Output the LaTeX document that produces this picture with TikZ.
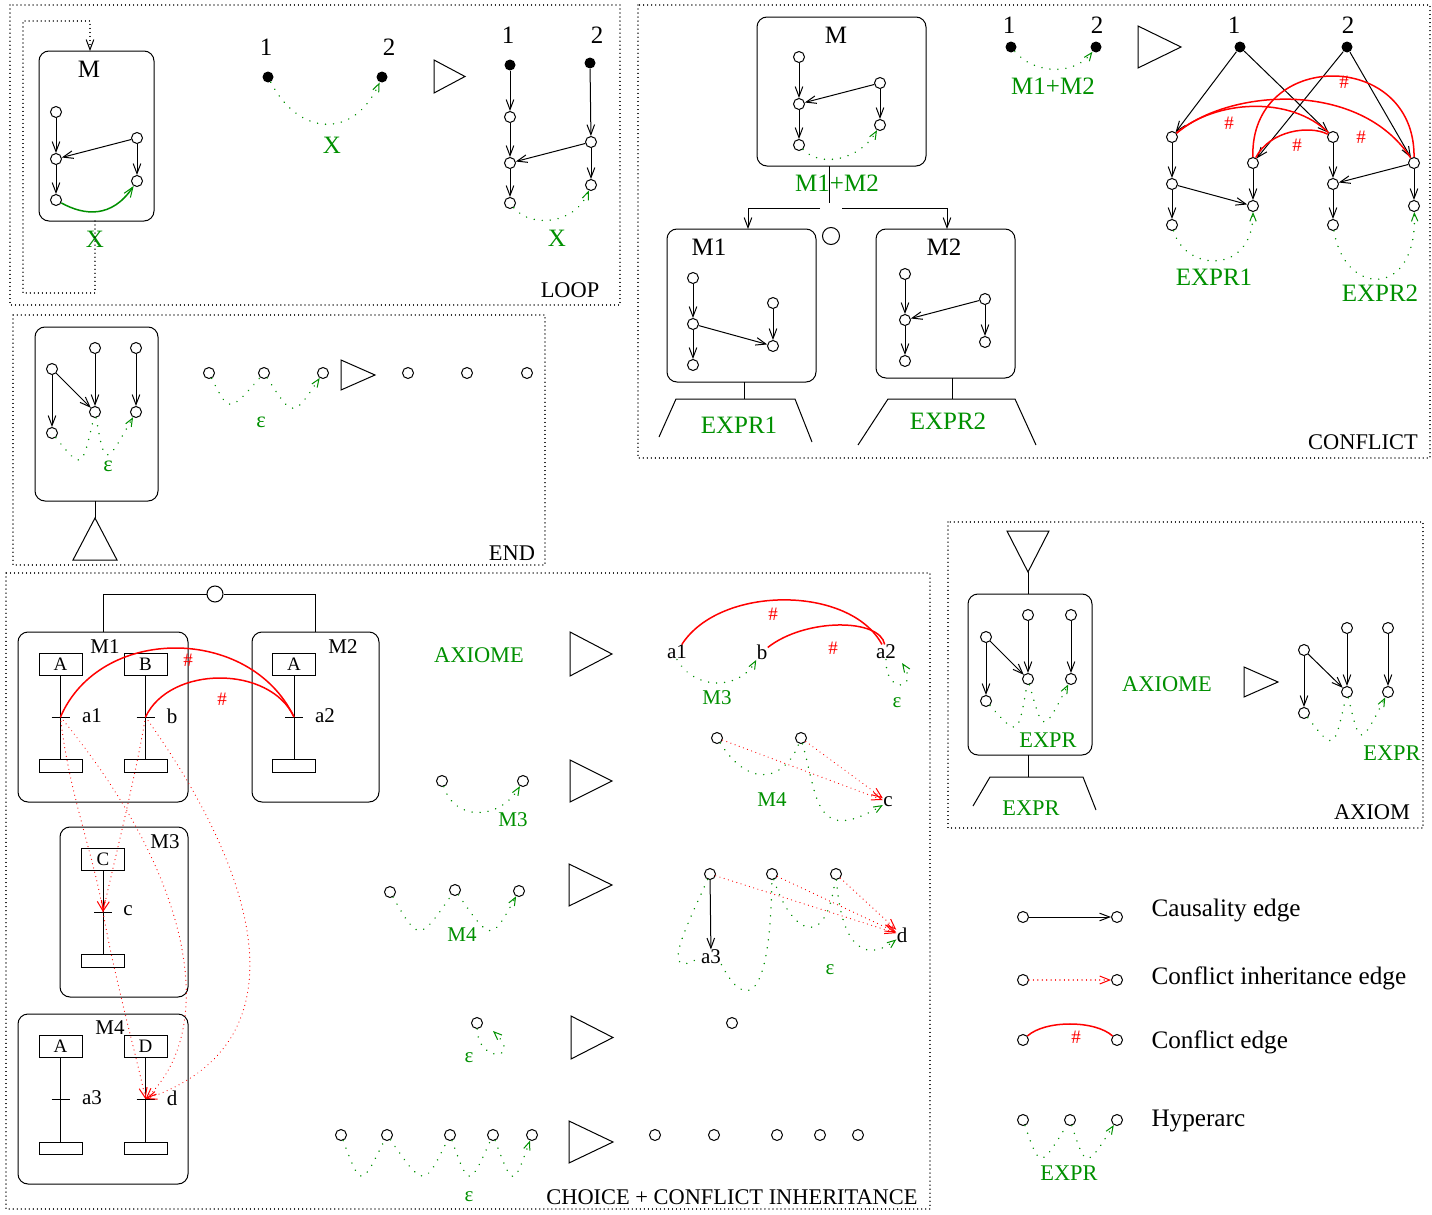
\documentclass[tikz,border=0pt]{standalone}
\usepackage{fontspec}
\setmainfont{Liberation Serif}
\usetikzlibrary{arrows.meta}
\definecolor{xgreen}{RGB}{0,144,0}
\newcommand\fsz[1]{\fontsize{#1}{#1}\selectfont}
\newcommand\mkbox[5]{\node[mbox,minimum width={(#4-#2)*0.5pt},minimum height={(#5-#3)*0.5pt}] (#1) at ({(#2+#4)/2},{(#3+#5)/2}) {};}
\newcommand\mkplay[4]{\draw (#1,#2) -- (#1,#3) -- (#4,{(#2+#3)/2}) -- cycle;}
\newcommand\stepcol[6]{%
  \node[srect,minimum height=11pt] (#1t) at (#2,#3) {#6};
  \node[srect,minimum height=6.25pt] (#1b) at (#2,#5) {};
  \coordinate (#1x) at (#2,#4);
  \draw (#1t.south) -- (#1b.north);
  \draw ([xshift=-4.5pt]#1x) -- ([xshift=4.5pt]#1x);
}
\tikzset{
  vx/.style={circle,draw,line width=0.5pt,minimum size=5.5pt,inner sep=0pt},
  bdot/.style={circle,fill=black,minimum size=5.5pt,inner sep=0pt},
  chnode/.style={circle,draw,line width=0.5pt,minimum size=8.5pt,inner sep=0pt},
  mbox/.style={draw,rounded corners=5pt,line width=0.5pt,inner sep=0pt},
  srect/.style={draw,line width=0.5pt,minimum width=21.5pt,inner sep=0pt,font=\fsz{9.5}},
  lblB/.style={inner sep=0pt,font=\fsz{12.5}},
  lblM/.style={inner sep=0pt,font=\fsz{11.2}},
  lblS/.style={inner sep=0pt,font=\fsz{10.5}},
  lblL/.style={inner sep=0pt,font=\fsz{12.6}},
  gB/.style={lblB,text=xgreen},
  gM/.style={lblM,text=xgreen},
  gS/.style={lblS,text=xgreen},
  hsh/.style={inner sep=0pt,font=\fsz{9.5},text=red},
  causal/.style={line width=0.5pt,-{Straight Barb[length=5pt,width=3.8pt]}},
  hyper/.style={xgreen,line width=0.8pt,line cap=round,dash pattern=on 0.01pt off 4pt,-{Straight Barb[length=4pt,width=3.2pt,line width=0.5pt]}},
  inh/.style={red,line width=0.6pt,line cap=round,dash pattern=on 0.01pt off 2.2pt,-{Straight Barb[length=5pt,width=4pt,line width=0.5pt]}},
  confl/.style={red,line width=0.75pt},
  pborder/.style={line width=0.6pt,line cap=round,dash pattern=on 0.01pt off 2pt},
  loopdots/.style={pborder,-{Straight Barb[length=5pt,width=3.8pt,line width=0.5pt]}},
}
\begin{document}
\begin{tikzpicture}[x=0.5pt,y=-0.5pt,line width=0.5pt]
\fill[white] (0,0) rectangle (1432,1215);
\useasboundingbox (0,0) rectangle (1432,1215);

% ================= LOOP
\draw[pborder] (10,5) rectangle (620,305);
\mkbox{Lm}{39}{51}{154}{221}
\node[lblB] (LmT) at (89,69) {M};
\node[vx] (L1) at (56,112) {};
\node[vx] (L2) at (56,159) {};
\node[vx] (L3) at (56,200) {};
\node[vx] (L4) at (137,138) {};
\node[vx] (L5) at (137,181) {};
\foreach \a/\b in {L1/L2,L2/L3,L4/L5,L4/L2} \draw[causal] (\a) -- (\b);
\draw[xgreen,line width=0.75pt,-{Straight Barb[length=5pt,width=3.8pt,line width=0.5pt]}] (L3) .. controls (85,216) and (112,218) .. (L5);
\node[gB] (LX1) at (95,239) {X};
\coordinate (Lout) at (95,221);
\coordinate (Lin) at (90,51);
\draw[loopdots] (Lout) -- (95,293) -- (23,293) -- (23,21) -- (90,21) -- (Lin);

\node[bdot] (La) at (268,77) {};
\node[bdot] (Lb) at (382,77) {};
\node[lblB] (La1) at (266,47) {1};
\node[lblB] (Lb2) at (389,47) {2};
\draw[hyper] (La) .. controls (300,138) and (355,138) .. (Lb);
\node[gB] (LX2) at (332,145) {X};
\mkplay{434}{60}{93}{465}

\node[bdot] (Ra) at (510,65) {};
\node[bdot] (Rb) at (590,63) {};
\node[lblB] (Ra1) at (508,35) {1};
\node[lblB] (Rb2) at (597,35) {2};
\node[vx] (R1) at (510,117) {};
\node[vx] (R2) at (510,163) {};
\node[vx] (R3) at (510,203) {};
\node[vx] (R4) at (591,142) {};
\node[vx] (R5) at (591,185) {};
\foreach \a/\b in {Ra/R1,R1/R2,R2/R3,Rb/R4,R4/R5,R4/R2} \draw[causal] (\a) -- (\b);
\draw[hyper] (R3) .. controls (530,228) and (575,225) .. (R5);
\node[gB] (LX3) at (557,238) {X};
\node[lblM] (Ltitle) at (570,290) {LOOP};

% ================= CONFLICT
\draw[pborder] (638,5) rectangle (1430,458);
\mkbox{Cm}{757}{17}{926}{166}
\node[lblB] (CmT) at (836,35) {M};
\node[vx] (C1) at (799,57) {};
\node[vx] (C2) at (799,104) {};
\node[vx] (C3) at (799,145) {};
\node[vx] (C4) at (880,83) {};
\node[vx] (C5) at (880,125) {};
\foreach \a/\b in {C1/C2,C2/C3,C4/C5,C4/C2} \draw[causal] (\a) -- (\b);
\draw[hyper] (C3) .. controls (820,168) and (860,160) .. (C5);
\coordinate (CmS) at (829,166);
\coordinate (CmD) at (829,203);
\draw (CmS) -- (CmD);
\node[gB] (CmL) at (837,183) {M1+M2};
\coordinate (CbrL) at (820,208);
\coordinate (CbrR) at (842,208);
\coordinate (Cm1In) at (748,229);
\coordinate (Cm2In) at (947,229);
\draw[causal] (CbrL) -| (Cm1In);
\draw[causal] (CbrR) -| (Cm2In);
\node[chnode] (Cch) at (831,236) {};

\mkbox{Cm1}{667}{229}{816}{382}
\node[lblB] (Cm1T) at (709,247) {M1};
\node[vx] (P1) at (693,278) {};
\node[vx] (P2) at (693,324) {};
\node[vx] (P3) at (693,365) {};
\node[vx] (P4) at (773,303) {};
\node[vx] (P5) at (773,346) {};
\foreach \a/\b in {P1/P2,P2/P3,P4/P5,P2/P5} \draw[causal] (\a) -- (\b);
\coordinate (Cm1S) at (744,382);
\coordinate (Ct1) at (744,399);
\draw (Cm1S) -- (Ct1);
\draw (659,437) -- (676,399) -- (795,399) -- (812,442);
\node[gB] (Ce1) at (739,425) {EXPR1};

\mkbox{Cm2}{876}{229}{1015}{378}
\node[lblB] (Cm2T) at (944,247) {M2};
\node[vx] (Q1) at (905,274) {};
\node[vx] (Q2) at (905,320) {};
\node[vx] (Q3) at (905,361) {};
\node[vx] (Q4) at (985,299) {};
\node[vx] (Q5) at (985,342) {};
\foreach \a/\b in {Q1/Q2,Q2/Q3,Q4/Q5,Q4/Q2} \draw[causal] (\a) -- (\b);
\coordinate (Cm2S) at (952,378);
\coordinate (Ct2) at (952,399);
\draw (Cm2S) -- (Ct2);
\draw (858,445) -- (888,399) -- (1015,399) -- (1036,445);
\node[gB] (Ce2) at (948,421) {EXPR2};

\node[bdot] (Ka) at (1011,47) {};
\node[bdot] (Kb) at (1096,47) {};
\node[lblB] (Ka1) at (1009,25) {1};
\node[lblB] (Kb2) at (1097,25) {2};
\draw[hyper] (Ka) .. controls (1035,75) and (1075,75) .. (Kb);
\node[gB] (KL) at (1053,86) {M1+M2};
\mkplay{1138}{26}{68}{1181}

\node[bdot] (Da) at (1240,47) {};
\node[bdot] (Db) at (1347,47) {};
\node[lblB] (Da1) at (1234,25) {1};
\node[lblB] (Db2) at (1348,25) {2};
\node[vx] (A1) at (1172,137) {};
\node[vx] (A2) at (1172,184) {};
\node[vx] (A3) at (1172,225) {};
\node[vx] (B1) at (1253,163) {};
\node[vx] (B2) at (1253,206) {};
\node[vx] (D1) at (1333,137) {};
\node[vx] (D2) at (1333,184) {};
\node[vx] (D3) at (1333,225) {};
\node[vx] (E1c) at (1414,163) {};
\node[vx] (E2c) at (1414,206) {};
\foreach \a/\b in {Da/A1,Da/D1,Db/B1,Db/E1c,A1/A2,A2/A3,A2/B2,B1/B2,D1/D2,D2/D3,E1c/E2c,E1c/D2} \draw[causal] (\a) -- (\b);
\draw[hyper] (A3) .. controls (1185,272) and (1253,275) .. (B2);
\draw[hyper] (D3) .. controls (1345,298) and (1418,298) .. (E2c);
\draw[confl] (A1) .. controls (1230,88) and (1360,80) .. (E1c);
\draw[confl] (A1) .. controls (1215,100) and (1290,95) .. (D1);
\draw[confl] (B1) .. controls (1270,130) and (1310,125) .. (D1);
\draw[confl] (B1) .. controls (1250,49) and (1415,49) .. (E1c);
\node[hsh] (H1) at (1229,123) {\#};
\node[hsh] (H2) at (1361,137) {\#};
\node[hsh] (H3) at (1297,145) {\#};
\node[hsh] (H4) at (1344,82) {\#};
\node[gB] (Ke1) at (1214,277) {EXPR1};
\node[gB] (Ke2) at (1380,293) {EXPR2};
\node[lblM] (Ctitle) at (1363,442) {CONFLICT};

% ================= END
\draw[pborder] (13,315) rectangle (545,565);
\mkbox{Eb}{35}{327}{158}{501}
\node[vx] (N1) at (52,369) {};
\node[vx] (N2) at (95,348) {};
\node[vx] (N3) at (136,348) {};
\node[vx] (N4) at (95,412) {};
\node[vx] (N5) at (136,412) {};
\node[vx] (N6) at (52,433) {};
\foreach \a/\b in {N1/N6,N1/N4,N2/N4,N3/N5} \draw[causal] (\a) -- (\b);
\draw[hyper] (N6) .. controls (82,470) .. (N4) .. controls (105,467) .. (N5);
\node[gM] (Neps) at (108,466) {ε};
\coordinate (EbS) at (95,501);
\coordinate (EtA) at (95,518);
\draw (EbS) -- (EtA);
\draw (EtA) -- (73,560) -- (117,560) -- cycle;
\node[vx] (F1) at (209,373) {};
\node[vx] (F2) at (264,373) {};
\node[vx] (F3) at (323,373) {};
\draw[hyper] (F1) .. controls (229,413) .. (F2) .. controls (293,418) .. (F3);
\node[gM] (Feps) at (261,422) {ε};
\mkplay{341}{360}{390}{375}
\node[vx] (G1) at (408,373) {};
\node[vx] (G2) at (467,373) {};
\node[vx] (G3) at (527,373) {};
\node[lblM] (Etitle) at (512,553) {END};

% ================= CHOICE + CONFLICT INHERITANCE
\draw[pborder] (6,573) rectangle (930,1209);
\node[chnode,minimum size=8pt] (Chc) at (215,594) {};
\coordinate (Ch1In) at (103,632);
\coordinate (Ch2In) at (315,632);
\draw (Chc.west) -| (Ch1In);
\draw (Chc.east) -| (Ch2In);
\mkbox{Hm1}{18}{632}{188}{802}
\node[lblS] (Hm1T) at (105,647) {M1};
\stepcol{sA}{60.5}{664}{717}{766}{A}
\stepcol{sB}{145.5}{664}{717}{766}{B}
\node[lblS] (la1) at (92,716) {a1};
\node[lblS] (lb) at (172,716) {b};
\mkbox{Hm2}{252}{632}{379}{802}
\node[lblS] (Hm2T) at (343,647) {M2};
\stepcol{sC}{294}{664}{717}{766}{A}
\node[lblS] (la2) at (325,716) {a2};
\mkbox{Hm3}{60}{827}{188}{997}
\node[lblS] (Hm3T) at (165,842) {M3};
\stepcol{sD}{103}{859.5}{912}{961}{C}
\node[lblS] (lc) at (128,911) {c};
\mkbox{Hm4}{18}{1014}{188}{1184}
\node[lblS] (Hm4T) at (110,1028) {M4};
\stepcol{sE}{60.5}{1046.5}{1099}{1148.5}{A}
\stepcol{sF}{145.5}{1046.5}{1099}{1148.5}{D}
\node[lblS] (la3) at (92,1098) {a3};
\node[lblS] (ld) at (172,1098) {d};
\draw[confl] (sAx) .. controls (100,625) and (250,625) .. (sCx);
\draw[confl] (sBx) .. controls (170,665) and (270,665) .. (sCx);
\node[hsh] (Hh1) at (188,660) {\#};
\node[hsh] (Hh2) at (222,699) {\#};
\draw[inh] (sAx) .. controls (68,790) and (95,860) .. (sDx);
\draw[inh] (sBx) .. controls (135,780) and (112,870) .. (sDx);
\draw[inh] (sAx) .. controls (195,880) and (218,1030) .. (sFx);
\draw[inh] (sBx) .. controls (262,880) and (305,1045) .. (sFx);
\draw[inh] (sDx) .. controls (115,980) and (135,1050) .. (sFx);

% middle column
\node[gM] (Ax1) at (479,655) {AXIOME};
\mkplay{570}{632}{676}{612}
\node[vx] (m31) at (442,781) {};
\node[vx] (m32) at (523,781) {};
\draw[hyper] (m31) .. controls (455,822) and (500,820) .. (m32);
\node[gS] (m3l) at (513,820) {M3};
\mkplay{570}{760}{802}{612}
\node[vx] (m41) at (390,892) {};
\node[vx] (m42) at (455,890) {};
\node[vx] (m43) at (519,891) {};
\draw[hyper] (m41) .. controls (419,942) .. (m42) .. controls (491,942) .. (m43);
\node[gS] (m4l) at (462,935) {M4};
\mkplay{569}{864}{906}{612}
\node[vx] (me) at (477,1023) {};
\coordinate (meIn) at (493,1031);
\draw[hyper] (me) .. controls (478,1064) and (524,1060) .. (meIn);
\node[gS] (mel) at (469,1058) {ε};
\mkplay{571}{1016}{1059}{613}
\node[vx] (w1) at (341,1135) {};
\node[vx] (w2) at (387,1135) {};
\node[vx] (w3) at (450,1135) {};
\node[vx] (w4) at (493,1135) {};
\node[vx] (w5) at (532,1135) {};
\draw[hyper] (w1) .. controls (361,1188) .. (w2) .. controls (424,1188) .. (w3) .. controls (469,1188) .. (w4) .. controls (513,1188) .. (w5);
\node[gS] (wl) at (469,1197) {ε};
\mkplay{569}{1121}{1163}{613}

% right column
\node[lblS] (ra1) at (677,652) {a1};
\node[lblS] (rb) at (762,652) {b};
\node[lblS] (ra2) at (886,652) {a2};
\draw[confl] (ra1) .. controls (720,585) and (850,585) .. (ra2);
\draw[confl] (rb) .. controls (805,618) and (880,618) .. (ra2);
\node[hsh] (rh1) at (773,614) {\#};
\node[hsh] (rh2) at (833,648) {\#};
\draw[hyper] (ra1.south) .. controls (695,691) and (740,690) .. (rb.south west);
\node[gS] (rm3) at (717,698) {M3};
\coordinate (ra2In) at (902,663);
\draw[hyper] (ra2.south) .. controls (885,695) and (920,690) .. (ra2In);
\node[gS] (reps) at (897,703) {ε};

\node[vx] (k1) at (717,738) {};
\node[vx] (k2) at (801,738) {};
\node[lblS] (rc) at (888,802) {c};
\draw[inh] (k1) -- (rc);
\draw[inh] (k2) -- (rc);
\draw[hyper] (k1) .. controls (750,790) and (785,780) .. (k2) .. controls (818,800) and (815,845) .. (rc);
\node[gS] (rm4) at (772,800) {M4};

\node[vx] (j1) at (710,874) {};
\node[vx] (j2) at (772,874) {};
\node[vx] (j3) at (836,874) {};
\node[lblS] (ra3) at (711,957) {a3};
\node[lblS] (rd) at (902,935) {d};
\draw[causal] (j1) -- (ra3);
\draw[inh] (j1) -- (rd);
\draw[inh] (j2) -- (rd);
\draw[inh] (j3) -- (rd);
\draw[hyper] (j1) .. controls (690,920) and (655,985) .. (ra3.west) (ra3.south east) .. controls (745,1010) and (770,1005) .. (j2) .. controls (790,930) and (825,955) .. (j3) .. controls (842,955) and (870,960) .. (rd);
\node[gS] (rdeps) at (830,970) {ε};
\node[vx] (lone) at (732,1023) {};
\node[vx] (u1) at (655,1135) {};
\node[vx] (u2) at (714,1135) {};
\node[vx] (u3) at (777,1135) {};
\node[vx] (u4) at (820,1135) {};
\node[vx] (u5) at (858,1135) {};
\node[lblM] (Htitle) at (732,1197) {CHOICE + CONFLICT INHERITANCE};

% ================= AXIOM
\draw[pborder] (948,522) rectangle (1423,828);
\coordinate (XtA) at (1028,572);
\draw (1007,531) -- (1049,531) -- (XtA) -- cycle;
\mkbox{Xb}{968}{594}{1092}{755}
\coordinate (XbN) at (1028,594);
\draw (XtA) -- (XbN);
\node[vx] (X1) at (986,637) {};
\node[vx] (X2) at (1028,615) {};
\node[vx] (X3) at (1071,615) {};
\node[vx] (X4) at (1028,679) {};
\node[vx] (X5) at (1071,679) {};
\node[vx] (X6) at (986,701) {};
\foreach \a/\b in {X1/X6,X1/X4,X2/X4,X3/X5} \draw[causal] (\a) -- (\b);
\draw[hyper] (X6) .. controls (1018,737) .. (X4) .. controls (1043,734) .. (X5);
\node[gM] (Xe1) at (1048,740) {EXPR};
\coordinate (XbS) at (1028,755);
\coordinate (XtT) at (1028,777);
\draw (XbS) -- (XtT);
\draw (973,806) -- (990,777) -- (1083,777) -- (1096,810);
\node[gM] (Xe2) at (1031,808) {EXPR};
\node[gM] (Ax2) at (1167,684) {AXIOME};
\mkplay{1244}{667}{697}{1278}
\node[vx] (Y1) at (1304,650) {};
\node[vx] (Y2) at (1347,628) {};
\node[vx] (Y3) at (1388,628) {};
\node[vx] (Y4) at (1347,692) {};
\node[vx] (Y5) at (1388,692) {};
\node[vx] (Y6) at (1304,713) {};
\foreach \a/\b in {Y1/Y6,Y1/Y4,Y2/Y4,Y3/Y5} \draw[causal] (\a) -- (\b);
\draw[hyper] (Y6) .. controls (1334,751) .. (Y4) .. controls (1360,747) .. (Y5);
\node[gM] (Ye) at (1392,753) {EXPR};
\node[lblM] (Xtitle) at (1372,812) {AXIOM};

% ================= LEGEND
\node[vx] (Z1) at (1023,917) {};
\node[vx] (Z2) at (1117,917) {};
\draw[causal] (Z1) -- (Z2);
\node[lblL,anchor=west] (ZT1) at (1151,910) {Causality edge};
\node[vx] (Z3) at (1023,980) {};
\node[vx] (Z4) at (1117,980) {};
\draw[inh] (Z3) -- (Z4);
\node[lblL,anchor=west] (ZT2) at (1151,978) {Conflict inheritance edge};
\node[vx] (Z5) at (1023,1040) {};
\node[vx] (Z6) at (1117,1040) {};
\draw[confl] (Z5) .. controls (1045,1020) and (1095,1020) .. (Z6);
\node[hsh] (Zh) at (1076,1037) {\#};
\node[lblL,anchor=west] (ZT3) at (1151,1042) {Conflict edge};
\node[vx] (Z7) at (1023,1120) {};
\node[vx] (Z8) at (1070,1120) {};
\node[vx] (Z9) at (1117,1120) {};
\draw[hyper] (Z7) .. controls (1040,1169) .. (Z8) .. controls (1086,1169) .. (Z9);
\node[gM] (Ze) at (1069,1173) {EXPR};
\node[lblL,anchor=west] (ZT4) at (1151,1121) {Hyperarc};
\end{tikzpicture}
\end{document}
